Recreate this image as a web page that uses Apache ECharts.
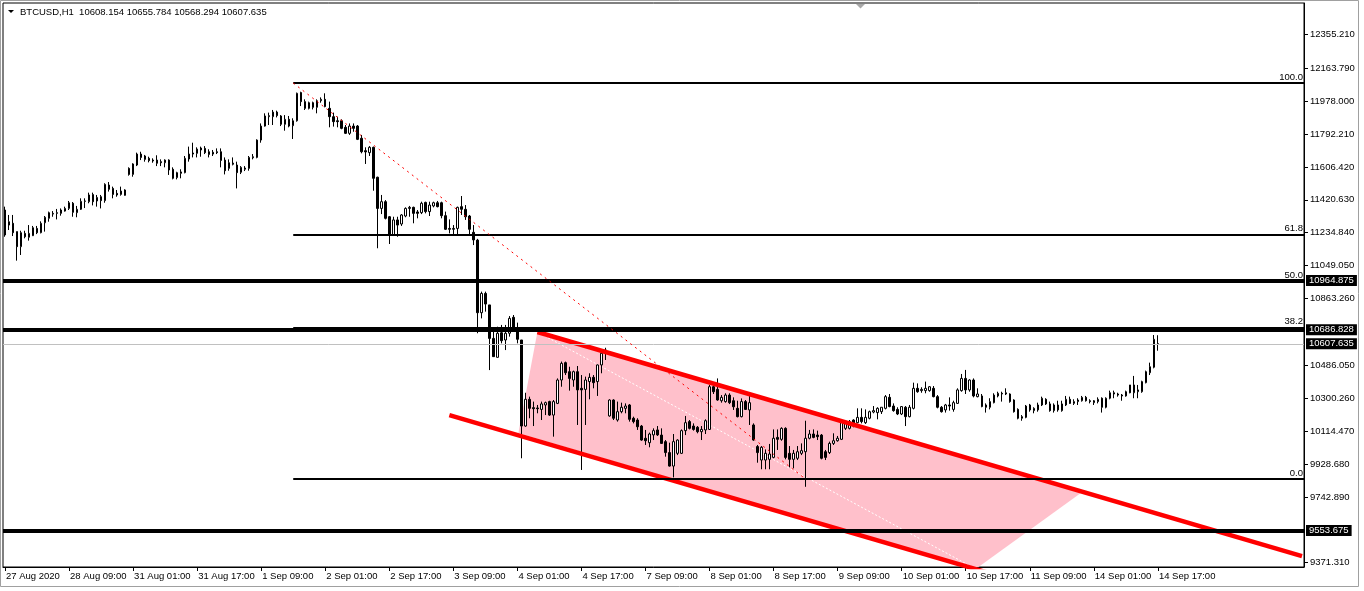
<!DOCTYPE html>
<html><head><meta charset="utf-8">
<script src="https://cdn.jsdelivr.net/npm/echarts@6/dist/echarts.min.js"></script>
<style>html,body{margin:0;padding:0;background:#fff;overflow:hidden}#c{width:1364px;height:591px}</style>
</head><body><div id="c"></div><script>
// ---------- data ----------
const symbolTitle = 'BTCUSD,H1';
const headerOHLC = ['10608.154', '10655.784', '10568.294', '10607.635'];
// trading days: [label, first hour, last hour]
const days = [['27 Aug',17,23],['28 Aug',0,23],['31 Aug',0,23],['1 Sep',0,23],['2 Sep',0,23],['3 Sep',0,23],['4 Sep',0,23],['7 Sep',0,23],['8 Sep',0,23],['9 Sep',0,23],['10 Sep',0,23],['11 Sep',0,23],['14 Sep',0,17]];
const futureBars = 36;
const xTickLabels = ['27 Aug 2020','28 Aug 09:00','31 Aug 01:00','31 Aug 17:00','1 Sep 09:00','2 Sep 01:00','2 Sep 17:00','3 Sep 09:00','4 Sep 01:00','4 Sep 17:00','7 Sep 09:00','8 Sep 01:00','8 Sep 17:00','9 Sep 09:00','10 Sep 01:00','10 Sep 17:00','11 Sep 09:00','14 Sep 01:00','14 Sep 17:00'];
const yTicks = [12355.21,12163.79,11978.00,11792.21,11606.42,11420.63,11234.84,11049.05,10863.26,10486.05,10300.26,10114.47,9928.68,9742.89,9371.31];

const open = [
11363,11278,11288,11241,11156,11231,11209,11218,11259,11235,
11291,11316,11340,11344,11344,11357,11372,11401,11348,11367,
11412,11410,11450,11414,11438,11416,11504,11485,11457,11451,
11476,11598,11564,11617,11679,11668,11655,11645,11645,11636,
11630,11645,11593,11546,11570,11574,11651,11679,11683,11702,
11711,11692,11689,11692,11692,11645,11598,11621,11617,11576,
11593,11598,11658,11660,11758,11837,11890,11890,11916,11894,
11847,11875,11839,11867,12026,11975,11937,11969,11943,11980,
11988,11937,11890,11867,11867,11830,11796,11837,11837,11768,
11698,11687,11717,11548,11372,11410,11325,11222,11307,11284,
11329,11372,11378,11352,11348,11406,11354,11386,11404,11404,
11331,11259,11254,11259,11382,11367,11329,11237,11193,10783,
10892,10827,10638,10531,10670,10629,10667,10757,10676,10629,
10143,10294,10247,10245,10237,10262,10281,10205,10271,10403,
10501,10450,10403,10450,10356,10350,10394,10418,10394,10488,
10560,10200,10290,10177,10224,10243,10262,10187,10177,10143,
10074,10049,10093,10121,10092,10055,9993,9917,9989,9989,
10117,10168,10143,10136,10111,10121,10124,10365,10350,10286,
10281,10318,10286,10243,10196,10281,10234,10149,10027,9951,
9951,9955,9966,10079,10068,10130,9989,9955,9961,9989,
9998,10074,10098,10092,10092,9998,9993,10045,10060,10068,
10130,10130,10177,10162,10192,10162,10187,10222,10219,10224,
10243,10305,10256,10237,10211,10249,10196,10243,10356,10343,
10343,10343,10356,10309,10249,10234,10262,10237,10271,10343,
10412,10347,10403,10309,10313,10262,10249,10275,10313,10328,
10324,10324,10290,10237,10187,10192,10262,10230,10234,10262,
10294,10268,10230,10262,10230,10262,10294,10271,10281,10286,
10305,10286,10275,10281,10300,10249,10300,10331,10324,10318,
10313,10375,10331,10337,10337,10388,10444,10475,10608.154];
const high = [
11382,11335,11335,11241,11246,11246,11278,11273,11273,11299,
11329,11354,11357,11369,11372,11382,11414,11408,11386,11429,
11429,11461,11461,11448,11448,11514,11521,11495,11476,11495,
11480,11604,11627,11687,11692,11674,11664,11655,11672,11649,
11649,11649,11604,11579,11593,11668,11721,11743,11717,11721,
11724,11706,11702,11711,11711,11660,11649,11660,11636,11611,
11611,11668,11679,11762,11852,11909,11913,11928,11924,11899,
11899,11894,11881,12026,12031,11988,11975,11975,11988,11999,
12022,11975,11913,11890,11875,11843,11852,11852,11843,11787,
11717,11724,11721,11551,11448,11419,11329,11325,11325,11340,
11378,11386,11382,11363,11410,11410,11410,11410,11414,11410,
11354,11310,11278,11382,11442,11391,11335,11278,11200,10902,
10902,10827,10695,10704,10714,10714,10764,10770,10727,10629,
10331,10309,10281,10262,10281,10281,10286,10290,10412,10507,
10507,10478,10456,10482,10431,10422,10441,10431,10491,10576,
10585,10294,10294,10281,10275,10271,10267,10196,10187,10149,
10121,10106,10130,10143,10130,10064,10049,10098,10068,10124,
10200,10177,10158,10143,10143,10181,10375,10384,10412,10318,
10328,10328,10305,10286,10299,10290,10313,10158,10036,10030,
10011,10042,10124,10124,10136,10136,10030,10008,10030,10045,
10173,10121,10124,10117,10098,10008,10055,10102,10087,10173,
10168,10177,10181,10243,10243,10237,10230,10256,10249,10249,
10318,10324,10271,10249,10256,10256,10262,10388,10384,10362,
10394,10369,10369,10318,10256,10268,10305,10286,10356,10437,
10460,10407,10412,10356,10324,10271,10300,10328,10337,10337,
10356,10328,10294,10243,10205,10262,10268,10249,10275,10309,
10300,10281,10271,10286,10286,10313,10309,10294,10300,10313,
10313,10294,10290,10305,10305,10305,10343,10343,10331,10324,
10343,10375,10426,10375,10399,10456,10501,10657,10655.784];
const low = [
11212,11250,11216,11077,11109,11203,11190,11216,11227,11231,
11241,11297,11325,11310,11331,11354,11363,11325,11322,11363,
11374,11401,11389,11382,11372,11404,11467,11429,11438,11444,
11444,11557,11551,11611,11645,11636,11632,11630,11611,11611,
11604,11561,11536,11536,11542,11570,11636,11660,11660,11664,
11679,11660,11668,11679,11604,11564,11585,11615,11485,11566,
11583,11585,11649,11655,11743,11834,11843,11843,11886,11837,
11811,11830,11764,11862,11950,11928,11931,11931,11909,11969,
11943,11830,11834,11830,11819,11792,11787,11805,11758,11683,
11623,11668,11472,11147,11340,11310,11171,11216,11212,11273,
11322,11325,11288,11316,11340,11344,11329,11378,11378,11316,
11250,11231,11222,11222,11335,11307,11222,11165,10667,10751,
10789,10459,10535,10531,10610,10572,10648,10676,10610,9961,
10139,10187,10143,10215,10177,10205,10200,10083,10267,10365,
10431,10343,10365,10149,9895,10149,10294,10356,10313,10441,
10516,10196,10177,10168,10215,10215,10168,10158,10121,10060,
10036,10023,10064,10087,10042,9970,9914,9853,9979,9985,
10092,10124,10117,10102,10064,10098,10121,10324,10286,10275,
10275,10267,10234,10192,10192,10234,10149,10060,9936,9899,
9899,9899,9961,10008,10060,9955,9910,9904,9951,9979,
9800,10068,10074,10064,9955,9951,9985,10036,10055,10064,
10121,10124,10136,10158,10158,10155,10181,10215,10181,10211,
10237,10249,10224,10205,10205,10143,10192,10237,10331,10331,
10328,10337,10305,10243,10219,10219,10230,10224,10268,10337,
10324,10337,10305,10305,10249,10219,10237,10271,10305,10281,
10318,10275,10219,10181,10173,10187,10224,10215,10224,10256,
10262,10224,10219,10224,10224,10256,10268,10262,10262,10281,
10281,10271,10262,10271,10219,10243,10294,10300,10309,10286,
10309,10328,10300,10300,10331,10384,10431,10469,10568.294];
const close = [
11222,11297,11235,11156,11235,11212,11231,11263,11235,11288,
11322,11348,11344,11348,11363,11372,11404,11350,11367,11412,
11414,11448,11410,11434,11416,11508,11480,11451,11448,11470,
11446,11564,11623,11679,11660,11649,11642,11640,11627,11630,
11645,11589,11542,11574,11578,11655,11679,11685,11707,11713,
11687,11677,11679,11687,11643,11585,11630,11628,11574,11604,
11600,11660,11664,11758,11837,11894,11896,11916,11896,11847,
11875,11837,11867,12022,11975,11937,11969,11943,11980,11988,
11947,11890,11862,11862,11824,11796,11837,11824,11762,11692,
11691,11717,11542,11372,11410,11316,11222,11307,11278,11335,
11372,11378,11344,11344,11401,11354,11391,11404,11382,11331,
11254,11254,11259,11378,11367,11325,11254,11194,10783,10892,
10832,10638,10535,10667,10625,10667,10751,10685,10633,10143,
10294,10243,10241,10241,10268,10275,10205,10281,10403,10497,
10444,10412,10450,10347,10347,10403,10418,10388,10488,10554,
10572,10290,10187,10224,10249,10256,10181,10168,10139,10064,
10060,10098,10117,10093,10045,9993,9917,10055,10064,10117,
10162,10130,10124,10111,10124,10173,10365,10337,10290,10305,
10318,10275,10252,10196,10281,10237,10275,10064,9993,10023,
9989,9985,10074,10068,10130,9966,9955,9989,9998,10004,
10074,10098,10079,10083,9961,9966,10045,10060,10074,10168,
10162,10168,10143,10192,10168,10192,10224,10230,10243,10249,
10309,10253,10230,10211,10253,10196,10249,10356,10337,10350,
10356,10365,10309,10249,10224,10262,10256,10275,10347,10412,
10347,10403,10313,10324,10253,10249,10281,10318,10328,10324,
10331,10281,10224,10187,10196,10256,10234,10243,10262,10300,
10268,10230,10262,10234,10268,10294,10271,10281,10290,10305,
10286,10281,10286,10294,10249,10300,10331,10324,10318,10313,
10337,10331,10375,10347,10394,10450,10478,10633,10607.635];

// horizontal support / resistance levels and last price
const hLevels = ['10964.875', '10686.828', '9553.675'];
const lastPrice = '10607.635';
// Fibonacci retracement: anchors [bar index, price]
const fibFrom = [72, 12080];
const fibTo = [200, 9844];
const fibLevels = [100, 61.8, 50, 38.2, 0];
// descending channel lines [bar index, price]
const channelUpper = [[133, 10674], [324, 9408]];
const channelLower = [[111, 10205], [249, 9292]];
// pink filled area (two triangles) vertices [bar index, price]
const pinkArea = [[133, 10674], [268.75, 9765], [242.5, 9336], [128.25, 10104]];

// ---------- build ----------
const cats = [];
days.forEach(([d, h0, h1]) => { for (let h = h0; h <= h1; h++) cats.push(d + ' ' + String(h).padStart(2, '0') + ':00'); });
const realBars = cats.length;
const N = realBars + futureBars;
while (cats.length < N) cats.push('');
const candles = open.map((o, i) => [o, close[i], low[i], high[i]]);
const FONT = 'Liberation Sans';
const FS = 9.5;
const showTick = (i) => i % 16 === 0 && i < realBars;
const fibPrice = (lv) => fibTo[1] + (fibFrom[1] - fibTo[1]) * lv / 100;

const chart = echarts.init(document.getElementById('c'), null, { renderer: 'canvas' });
chart.setOption({
  animation: false,
  backgroundColor: '#fff',
  textStyle: { fontFamily: FONT },
  grid: { left: 3, top: 3, right: 60, bottom: 24, show: true, borderColor: '#000', borderWidth: 1, backgroundColor: '#fff' },
  xAxis: [
    {
      type: 'category', data: cats, boundaryGap: true,
      axisLine: { lineStyle: { color: '#000', width: 1 } },
      axisTick: { show: true, alignWithLabel: true, interval: showTick, length: 4, lineStyle: { color: '#000' } },
      axisLabel: { interval: showTick, formatter: (v, i) => xTickLabels[i / 16], align: 'left', color: '#000', fontFamily: FONT, fontSize: FS, margin: 4, padding: [0, 0, 0, 1] },
      splitLine: { show: false }
    },
    { type: 'value', min: -0.5, max: N - 0.5, show: false }
  ],
  yAxis: {
    type: 'value', position: 'right', min: 9347, max: 12532, offset: 0,
    axisLine: { show: true, onZero: false, lineStyle: { color: '#000' } },
    axisTick: { show: true, inside: false, length: 4, customValues: yTicks, lineStyle: { color: '#000' } },
    axisLabel: { inside: false, customValues: yTicks, formatter: (v) => v.toFixed(3), color: '#000', fontFamily: FONT, fontSize: FS, margin: 6 },
    splitLine: { show: false },
    minorTick: { show: false }
  },
  graphic: [
    { type: 'rect', shape: { x: 0.5, y: 0.5, width: 1358, height: 586 }, style: { fill: null, stroke: '#a0a0a0', lineWidth: 1 }, z: -1 },
    { type: 'polygon', shape: { points: [[8, 10], [14, 10], [11, 13]] }, style: { fill: '#000' }, z: 10 },
    { type: 'text', left: 20, top: 7, style: { text: symbolTitle + '  ' + headerOHLC.join(' '), fill: '#000', font: FS + 'px ' + FONT }, z: 10 },
    { type: 'polygon', shape: { points: [[856, 4], [865, 4], [860.5, 8.5]] }, style: { fill: '#a8a8a8' }, z: 10 }
  ],
  series: [
    {
      type: 'custom', xAxisIndex: 1, yAxisIndex: 0, clip: true, silent: true, z: 1, data: [[0, 0]],
      renderItem: (params, api) => ({ type: 'polygon', shape: { points: pinkArea.map(p => api.coord(p)) }, style: { fill: '#ffc0cb' } })
    },
    {
      type: 'line', xAxisIndex: 1, data: [pinkArea[0], pinkArea[2]], symbol: 'none', silent: true, z: 2,
      lineStyle: { color: '#ffffff', width: 1, type: [2, 2] }
    },
    {
      type: 'candlestick', xAxisIndex: 0, data: candles, barWidth: 2, z: 3, silent: true,
      itemStyle: { color: '#ffffff', color0: '#000000', borderColor: '#000000', borderColor0: '#000000', borderColorDoji: '#000000', borderWidth: 1 }
    },
    {
      type: 'line', xAxisIndex: 1, data: channelUpper, symbol: 'none', silent: true, z: 4,
      lineStyle: { color: '#ff0000', width: 4.5 }
    },
    {
      type: 'line', xAxisIndex: 1, data: channelLower, symbol: 'none', silent: true, z: 4,
      lineStyle: { color: '#ff0000', width: 4.5 }
    },
    {
      type: 'line', xAxisIndex: 1, data: [fibFrom, fibTo], symbol: 'none', silent: true, z: 5,
      lineStyle: { color: '#ff0000', width: 1, type: [2, 4] }
    },
    {
      type: 'line', xAxisIndex: 1, data: [fibFrom], symbol: 'none', silent: true, z: 6,
      lineStyle: { opacity: 0 },
      markLine: {
        symbol: 'none', silent: true, animation: false,
        lineStyle: { color: '#000', width: 2, type: 'solid' },
        label: { show: true, position: 'insideEndTop', color: '#000', fontFamily: FONT, fontSize: FS, distance: [1, 1] },
        data: fibLevels.map(lv => [
          { coord: [fibFrom[0], fibPrice(lv)], label: { formatter: lv.toFixed(1) } },
          { coord: [N - 0.5, fibPrice(lv)] }
        ])
      }
    },
    {
      type: 'line', xAxisIndex: 1, data: [fibFrom], symbol: 'none', silent: true, z: 7,
      lineStyle: { opacity: 0 },
      markLine: {
        symbol: 'none', silent: true, animation: false,
        label: { show: true, position: 'end', distance: 2, color: '#fff', backgroundColor: '#000', padding: [1, 3, 0, 3], fontFamily: FONT, fontSize: FS },
        data: [
          { yAxis: Number(lastPrice), label: { formatter: lastPrice }, lineStyle: { color: '#c0c0c0', width: 1, type: 'solid' } },
          ...hLevels.map(v => ({ yAxis: Number(v), label: { formatter: v }, lineStyle: { color: '#000', width: 4, type: 'solid' } }))
        ]
      }
    }
  ]
});
</script></body></html>
